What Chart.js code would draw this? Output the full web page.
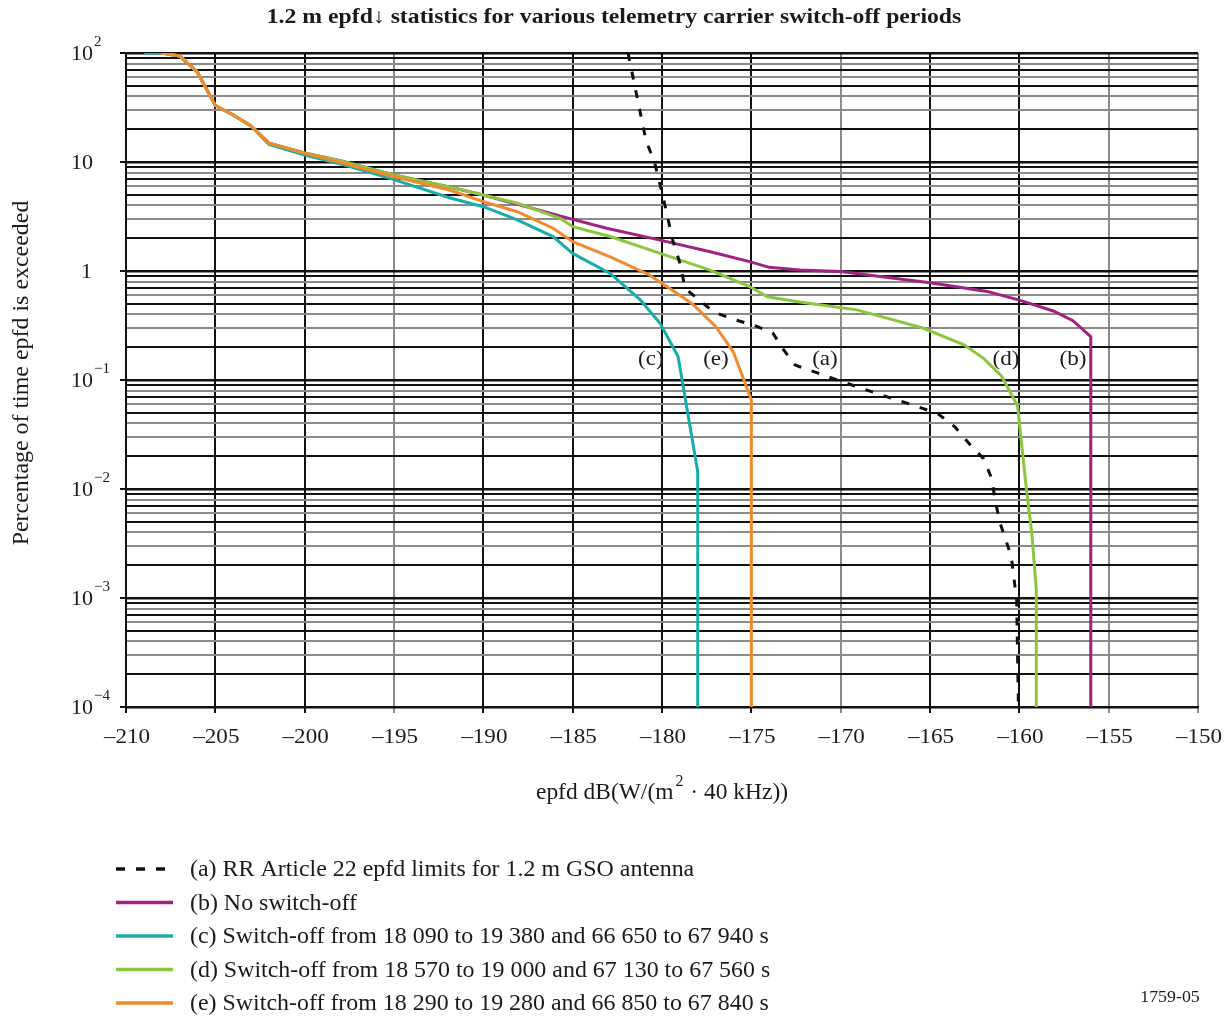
<!DOCTYPE html>
<html><head><meta charset="utf-8">
<script src="https://cdn.jsdelivr.net/npm/chart.js@4/dist/chart.umd.min.js"></script>
<style>html,body{margin:0;padding:0;background:#fff;}canvas{display:block}</style>
</head><body>
<canvas id="c" width="1229" height="1018"></canvas>
<script>
// ---- data ----
const titleText = "1.2 m epfd\u2193 statistics for various telemetry carrier switch-off periods";
const xTitle = ["epfd dB(W/(m", "2", " \u00b7 40 kHz))"];
const yTitle = "Percentage of time epfd is exceeded";
const footText = "1759-05";

const seriesLabels = [
  "(a) RR Article 22 epfd limits for 1.2 m GSO antenna",
  "(b) No switch-off",
  "(c) Switch-off from 18 090 to 19 380 and 66 650 to 67 940 s",
  "(d) Switch-off from 18 570 to 19 000 and 67 130 to 67 560 s",
  "(e) Switch-off from 18 290 to 19 280 and 66 850 to 67 840 s"
];
const seriesColors = ["#111111", "#A0217F", "#1AACAC", "#8CC63F", "#EF8B2C"];

const aX = [-181.9,-181.4,-180.9,-180.4,-179.9,-179.4,-179.0,-178.7,-177.1,-176.0,-174.9,-173.8,-173.2,-172.55,-171.35,-170.2,-169.1,-168.0,-166.9,-165.7,-164.55,-163.6,-162.8,-162.0,-161.55,-161.35,-161.1,-160.45,-160.15,-160.05];
const aY = [100,39.7,15.9,9.7,4.48,1.92,1.18,0.69,0.42,0.36,0.32,0.27,0.19,0.137,0.117,0.10,0.087,0.0755,0.066,0.057,0.049,0.037,0.026,0.019,0.0125,0.0079,0.005,0.0024,0.00096,0.0001];

const bX = [-208,-207,-206,-205,-204,-203,-202,-200,-198,-195,-191.9,-190,-188.1,-185.2,-183.1,-180.1,-177.3,-175.1,-174.0,-172.3,-170.0,-167.8,-165.0,-161.8,-160.0,-158.1,-157.0,-156.0,-156.0];
const bY = [100,94,66.6,33,27,21.4,14.9,12.1,10.3,7.6,5.9,4.98,4.1,3.04,2.47,1.92,1.50,1.22,1.08,1.02,0.99,0.89,0.78,0.65,0.54,0.43,0.35,0.25,0.0001];

const cX = [-209,-208,-207,-206,-205,-204,-203,-202,-200,-198,-195,-191.9,-190,-188.1,-186.1,-185.0,-182.9,-181.2,-180.1,-179.1,-178.0,-178.0];
const cY = [100,100,94,66.6,33,27,21.4,14.5,11.6,9.6,6.9,4.7,3.89,2.94,2.07,1.45,0.95,0.54,0.33,0.164,0.0144,0.0001];

const dX = [-208,-207,-206,-205,-204,-203,-202,-200,-198,-195,-191.9,-190,-188.1,-185.7,-185.0,-182.9,-180.1,-177.3,-175.1,-174.1,-172.3,-169.1,-165.4,-163.1,-162.0,-161.0,-160.1,-159.6,-159.3,-159.05,-159.05];
const dY = [100,94,66.6,33,27,21.4,14.9,12.1,10.3,7.6,5.9,4.98,4.18,3.04,2.55,2.07,1.45,1.02,0.72,0.58,0.52,0.44,0.30,0.21,0.158,0.109,0.058,0.0098,0.0039,0.0012,0.0001];

const eX = [-208,-207,-206,-205,-204,-203,-202,-200,-198.2,-195,-191.9,-190,-188.1,-186.1,-185.0,-182.9,-180.7,-179.0,-178.25,-177.0,-176.0,-175.0,-175.0];
const eY = [100,94,66.6,33,27,21.4,14.9,12.0,10.1,7.33,5.53,4.33,3.5,2.47,1.86,1.35,0.92,0.60,0.49,0.31,0.18,0.066,0.0001];

const curveTags = ["(c)", "(e)", "(a)", "(d)", "(b)"];
const curveTagX = [-180.62, -176.98, -170.88, -160.75, -157.0];
const curveTagY = [0.156, 0.156, 0.156, 0.156, 0.156];

const xMin = -210, xMax = -150, xStep = 5;
const xTickValues = [-210,-205,-200,-195,-190,-185,-180,-175,-170,-165,-160,-155,-150];
const yExps = [2, 1, 0, -1, -2, -3, -4];
const xGreyTicks = [-195, -170, -155, -150];
const yGreySignificands = [3, 4, 6, 8];

// ---- build ----
const pts = (xs, ys) => xs.map((x, i) => ({x: x, y: ys[i]}));
const yGridValues = [];
for (let e = -4; e <= 2; e++) {
  for (let s = 1; s <= 9; s++) {
    const v = s * Math.pow(10, e);
    if (v <= 100 + 1e-9) yGridValues.push(v);
  }
}
const serif = "'Liberation Serif','Times New Roman',serif";
const seriesData = [pts(aX, aY), pts(bX, bY), pts(cX, cY), pts(dX, dY), pts(eX, eY)];
const drawOrder = [0, 4, 3, 2, 1];

const datasets = seriesData.map((d, i) => ({
  label: seriesLabels[i],
  data: d,
  borderColor: seriesColors[i],
  backgroundColor: seriesColors[i],
  borderWidth: 3,
  borderDash: i === 0 ? [8, 11] : [],
  pointRadius: 0,
  tension: 0,
  fill: false,
  order: drawOrder[i]
}));

function sigOf(v) {
  const e = Math.floor(Math.log10(v) + 1e-9);
  return Math.round(v / Math.pow(10, e));
}

function stretchText(ctx, txt, x, y, sx, align) {
  ctx.save();
  const w = ctx.measureText(txt).width * sx;
  let left = x;
  if (align === 'center') left = x - w / 2;
  else if (align === 'right') left = x - w;
  ctx.translate(left, y);
  ctx.scale(sx, 1);
  ctx.textAlign = 'left';
  ctx.fillText(txt, 0, 0);
  ctx.restore();
  return w;
}

const overlay = {
  id: 'overlay',
  afterDraw(chart) {
    const ctx = chart.ctx, xs = chart.scales.x, ys = chart.scales.y, ca = chart.chartArea;
    ctx.save();
    ctx.fillStyle = '#1a1a1a';
    ctx.textBaseline = 'middle';
    // title
    ctx.font = 'bold 21px ' + serif;
    stretchText(ctx, titleText, 614, 18, 1.13, 'center');
    // x tick labels
    ctx.font = '22px ' + serif;
    xTickValues.forEach(v => {
      const t = (v < 0 ? '\u2013' : '') + Math.abs(v);
      stretchText(ctx, t, xs.getPixelForValue(v) + 1, 737, 1.05, 'center');
    });
    // y tick labels with superscripts and ticks
    ctx.strokeStyle = '#111'; ctx.lineWidth = 2;
    yExps.forEach(e => {
      const y = ys.getPixelForValue(Math.pow(10, e));
      ctx.beginPath(); ctx.moveTo(ca.left - 6, y); ctx.lineTo(ca.left, y); ctx.stroke();
      ctx.font = '22px ' + serif;
      if (e === 0) { stretchText(ctx, '1', 92, y + 1, 1.0, 'right'); }
      else {
        stretchText(ctx, '10', 93, y + 1, 1.0, 'right');
        if (e !== 1) {
          ctx.font = '15px ' + serif;
          stretchText(ctx, e < 0 ? '\u2212' + (-e) : String(e), 94, y - 11, 1.0, 'left');
        }
      }
    });
    // y axis title
    ctx.save();
    ctx.translate(22, 373); ctx.rotate(-Math.PI / 2);
    ctx.font = '23px ' + serif;
    stretchText(ctx, yTitle, 0, 0, 1.04, 'center');
    ctx.restore();
    // x axis title with superscript
    ctx.font = '23px ' + serif;
    const sxT = 1.02;
    const w1 = ctx.measureText(xTitle[0]).width * sxT, w3 = ctx.measureText(xTitle[2]).width * sxT;
    ctx.font = '16px ' + serif;
    const w2 = ctx.measureText(xTitle[1]).width + 3;
    let sx = 662 - (w1 + w2 + w3) / 2;
    ctx.font = '23px ' + serif; stretchText(ctx, xTitle[0], sx, 793, sxT, 'left');
    ctx.font = '16px ' + serif; stretchText(ctx, xTitle[1], sx + w1 + 2, 782, 1.0, 'left');
    ctx.font = '23px ' + serif; stretchText(ctx, xTitle[2], sx + w1 + w2, 793, sxT, 'left');
    // curve tags
    ctx.font = '22px ' + serif;
    curveTags.forEach((t, i) => {
      stretchText(ctx, t, xs.getPixelForValue(curveTagX[i]), ys.getPixelForValue(curveTagY[i]), 1.05, 'center');
    });
    // legend
    const legY0 = 869, legDy = 33.5;
    chart.data.datasets.forEach((ds, i) => {
      const y = legY0 + i * legDy;
      ctx.save();
      ctx.strokeStyle = ds.borderColor; ctx.lineWidth = 3.5;
      ctx.setLineDash(ds.borderDash && ds.borderDash.length ? [9, 11] : []);
      ctx.beginPath(); ctx.moveTo(116, y); ctx.lineTo(173, y); ctx.stroke();
      ctx.restore();
      ctx.font = '23px ' + serif;
      stretchText(ctx, ds.label, 190, y + 1, 1.04, 'left');
    });
    // footnote
    ctx.font = '17px ' + serif;
    stretchText(ctx, footText, 1170, 998, 1.05, 'center');
    ctx.restore();
  }
};

new Chart(document.getElementById('c'), {
  type: 'line',
  data: { datasets: datasets },
  options: {
    responsive: false,
    animation: false,
    layout: { padding: { left: 126, top: 53, right: 31, bottom: 311 } },
    plugins: { legend: { display: false }, tooltip: { enabled: false }, title: { display: false } },
    scales: {
      x: {
        type: 'linear', min: xMin, max: xMax,
        afterFit: s => { s.height = 0; },
        afterBuildTicks: s => { s.ticks = xTickValues.map(v => ({ value: v })); },
        ticks: { display: false },
        grid: {
          color: c => (c.tick && xGreyTicks.includes(c.tick.value)) ? '#8a8a8a' : '#111',
          lineWidth: 2, tickLength: 6, drawTicks: true
        },
        border: { display: true, color: '#111', width: 2 }
      },
      y: {
        type: 'logarithmic', min: 1e-4, max: 100,
        afterFit: s => { s.width = 0; },
        afterBuildTicks: s => { s.ticks = yGridValues.map(v => ({ value: v })); },
        ticks: { display: false },
        grid: {
          color: c => {
            if (!c.tick) return '#111';
            return yGreySignificands.includes(sigOf(c.tick.value)) ? '#8a8a8a' : '#111';
          },
          lineWidth: c => (c.tick && sigOf(c.tick.value) === 1) ? 2.5 : 2,
          drawTicks: false
        },
        border: { display: true, color: '#111', width: 2 }
      }
    }
  },
  plugins: [overlay]
});
</script>
</body></html>
